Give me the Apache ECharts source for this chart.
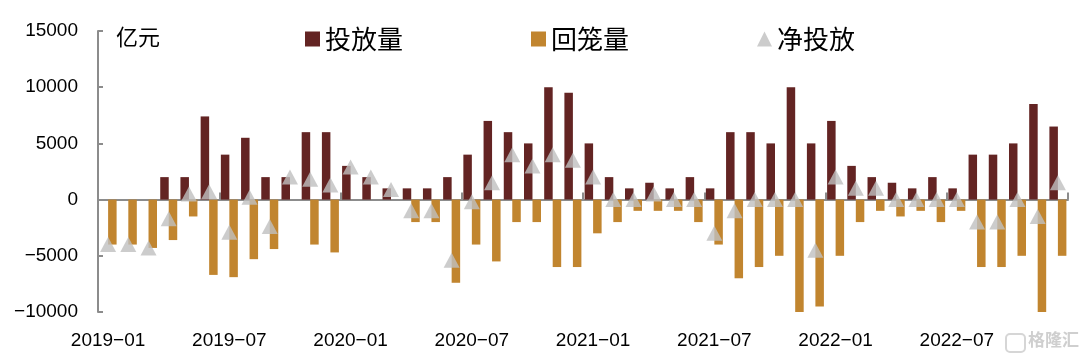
<!DOCTYPE html>
<html>
<head>
<meta charset="utf-8">
<script src="https://cdn.jsdelivr.net/npm/echarts@6/dist/echarts.min.js"></script>
<style>html,body{margin:0;padding:0;background:#fff;}#c{width:1080px;height:359px;}</style>
</head>
<body>
<div id="c"></div>
<script>
const months = [];
for (let y = 2019; y <= 2022; y++) { for (let m = 1; m <= 12; m++) { months.push(y + '-' + (m < 10 ? '0' + m : m)); } }
const investment = [0,0,0,2000,2000,7400,4000,5500,2000,2000,6000,6000,3000,2000,1000,1000,1000,2000,4000,7000,6000,5000,10000,9500,5000,2000,1000,1500,1000,2000,1000,6000,6000,5000,10000,5000,7000,3000,2000,1500,1000,2000,1000,4000,4000,5000,8500,6500];
const withdrawal = [-4000,-4000,-4300,-3600,-1500,-6700,-6900,-5300,-4400,0,-4000,-4700,0,0,0,-2000,-2000,-7400,-4000,-5500,-2000,-2000,-6000,-6000,-3000,-2000,-1000,-1000,-1000,-2000,-4000,-7000,-6000,-5000,-10000,-9500,-5000,-2000,-1000,-1500,-1000,-2000,-1000,-6000,-6000,-5000,-10000,-5000];
const netInjection = [-4000,-4000,-4300,-1700,500,700,-2900,200,-2400,2000,1800,1300,2900,2000,900,-1000,-1000,-5400,-200,1500,4000,3000,4000,3500,2000,0,0,500,0,0,-3000,-1000,0,0,0,-4500,2000,1000,1000,0,0,0,0,-2000,-2000,0,-1500,1500];
const seriesNames = ['投放量', '回笼量', '净投放'];
const unitLabel = '亿元';

const latin = "'Liberation Sans', Arial, 'Noto Sans CJK SC', sans-serif";
const cjk = "'Noto Sans CJK SC', 'Liberation Sans', sans-serif";
const minus = v => String(v).replace('-', '\u2212');

const chart = echarts.init(document.getElementById('c'), null, {renderer: 'canvas'});
chart.setOption({
  animation: false,
  backgroundColor: '#fff',
  grid: {left: 98, right: 12, top: 31, bottom: 47, containLabel: false},
  legend: {
    left: 300, top: 21,
    itemWidth: 15, itemHeight: 15, itemGap: 128,
    textStyle: {fontSize: 26, color: '#000', fontFamily: cjk},
    data: [
      {name: seriesNames[0], icon: 'rect'},
      {name: seriesNames[1], icon: 'rect'},
      {name: seriesNames[2], icon: 'triangle'}
    ]
  },
  graphic: [
    {type: 'text', left: 116, top: 26, style: {text: unitLabel, fontSize: 22, fill: '#000', fontFamily: cjk}},
    {type: 'rect', shape: {x: 1006, y: 334, width: 19, height: 18, r: 4}, style: {fill: 'none', stroke: '#d6d6d6', lineWidth: 2}},
    {type: 'text', left: 1028, top: 331, style: {text: '格隆汇', fontSize: 17, fill: '#cfcfcf', fontFamily: cjk, fontWeight: 'bold'}}
  ],
  xAxis: [
    {
      type: 'category', data: months, position: 'top',
      axisLine: {onZero: true, lineStyle: {color: '#8c8c8c', width: 2}},
      axisTick: {show: true, inside: false, interval: 5, length: 7, lineStyle: {color: '#8c8c8c', width: 2}},
      axisLabel: {show: false},
      splitLine: {show: false}
    },
    {
      type: 'category', data: months, position: 'bottom',
      axisLine: {show: false, onZero: false},
      axisTick: {show: false},
      axisLabel: {show: true, interval: 5, margin: 19, fontSize: 19, color: '#000', fontFamily: latin, formatter: v => minus(v)},
      splitLine: {show: false}
    }
  ],
  yAxis: {
    type: 'value', min: -10000, max: 15000, interval: 5000,
    axisLine: {show: true, lineStyle: {color: '#8c8c8c', width: 2}},
    axisTick: {show: true, inside: true, length: 5, lineStyle: {color: '#8c8c8c', width: 2}},
    axisLabel: {margin: 20, fontSize: 19, color: '#000', fontFamily: latin, formatter: v => minus(v)},
    splitLine: {show: false}
  },
  series: [
    {name: seriesNames[0], type: 'bar', xAxisIndex: 1, data: investment, barWidth: 8.5, barGap: '0%', itemStyle: {color: '#632423'}},
    {name: seriesNames[1], type: 'bar', xAxisIndex: 1, data: withdrawal, barWidth: 8.5, barGap: '0%', itemStyle: {color: '#C1852F'}},
    {name: seriesNames[2], type: 'scatter', xAxisIndex: 1, data: netInjection, symbol: 'triangle', symbolSize: [16, 15], itemStyle: {color: '#BFBFBF'}, z: 5}
  ]
});
</script>
</body>
</html>
